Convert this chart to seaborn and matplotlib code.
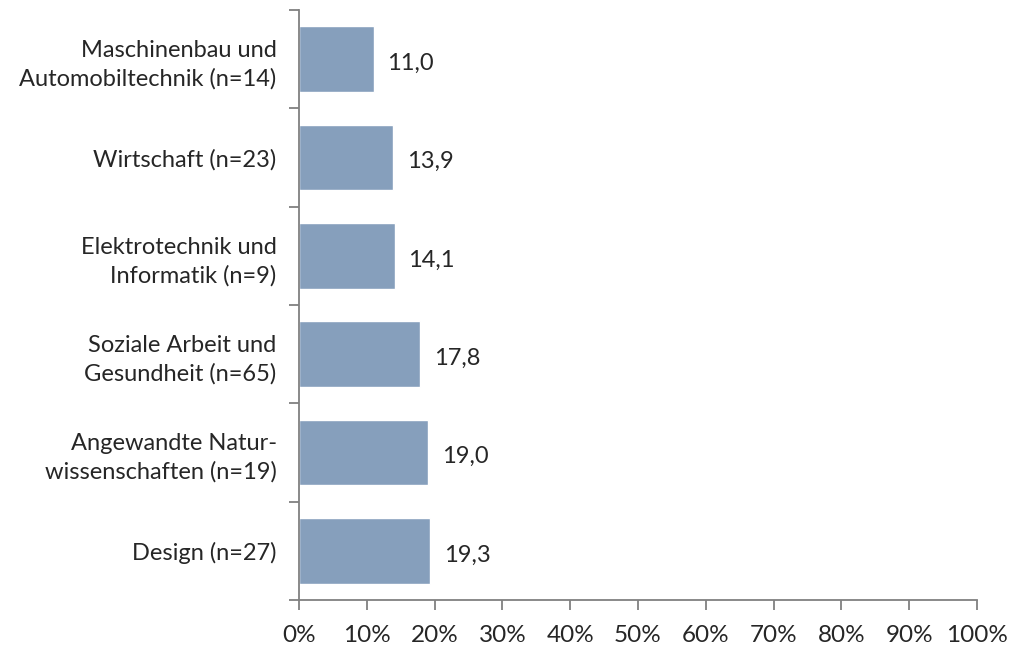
import matplotlib
matplotlib.use("Agg")
import matplotlib.pyplot as plt
import seaborn as sns
import pandas as pd

# Daten
categories = [
    "Maschinenbau und\nAutomobiltechnik (n=14)",
    "Wirtschaft (n=23)",
    "Elektrotechnik und\nInformatik (n=9)",
    "Soziale Arbeit und\nGesundheit (n=65)",
    "Angewandte Natur-\nwissenschaften (n=19)",
    "Design (n=27)",
]
values = [11.0, 13.9, 14.1, 17.8, 19.0, 19.3]
x_ticks = list(range(0, 101, 10))
x_tick_labels = [f"{t}%" for t in x_ticks]

sns.set_style("white")
plt.rcParams["font.family"] = ["Lato", "DejaVu Sans"]

df = pd.DataFrame({"cat": categories, "val": values})

fig = plt.figure(figsize=(10.11, 6.48), dpi=100)
ax = fig.add_axes([0.2957, 0.0741, 0.6707, 0.9105])

sns.barplot(data=df, x="val", y="cat", orient="h", color="#869fbc",
            saturation=1, width=0.67, ax=ax)

# Wertebeschriftung
for i, v in enumerate(values):
    ax.annotate(f"{v:.1f}".replace(".", ","), xy=(v, i), xytext=(10, -3),
                textcoords="offset points", ha="left", va="center", fontsize=17)

ax.set_xlim(0, 100)
ax.set_ylim(len(categories) - 0.5, -0.5)
ax.set_xticks(x_ticks)
ax.set_xticklabels(x_tick_labels, fontsize=17.5)

# Kategorie-Ticks an den Grenzen, Beschriftungen mittig
ax.set_yticks([i - 0.5 for i in range(len(categories) + 1)])
ax.set_yticklabels([])
ax.set_yticks(range(len(categories)), minor=True)
ax.set_yticklabels(categories, minor=True, fontsize=17, ha="right", linespacing=1.4)
ax.tick_params(axis="y", which="minor", length=0, pad=16)
ax.tick_params(axis="y", which="major", length=7, width=1.3, color="#808080", direction="out", left=True)
ax.tick_params(axis="x", length=7, width=1.3, color="#808080", direction="out", bottom=True, pad=11)

ax.set_xlabel("")
ax.set_ylabel("")
for s in ["top", "right"]:
    ax.spines[s].set_visible(False)
for s in ["left", "bottom"]:
    ax.spines[s].set_color("#808080")
    ax.spines[s].set_linewidth(1.3)

fig.savefig("out.png", dpi=100)
